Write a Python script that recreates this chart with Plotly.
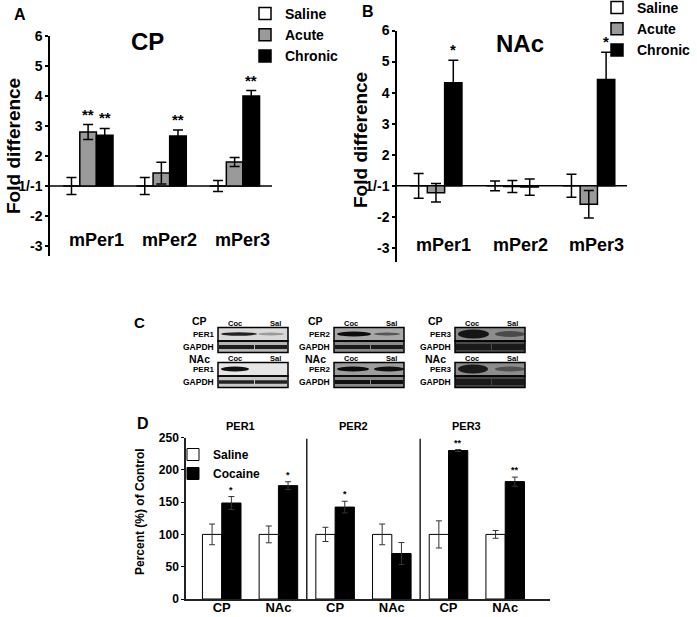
import plotly.graph_objects as go

# ---------------- data ----------------
genes = ["mPer1", "mPer2", "mPer3"]
treatments = ["Saline", "Acute", "Chronic"]
fold_tick_values = [6, 5, 4, 3, 2, 1, -2, -3]

cp_saline = [1.0, 1.0, 1.0]
cp_saline_err = [0.28, 0.28, 0.18]
cp_acute = [2.8, 1.43, 1.8]
cp_acute_err = [0.25, 0.36, 0.15]
cp_chronic = [2.69, 2.67, 4.0]
cp_chronic_err = [0.23, 0.2, 0.18]
cp_acute_sig = ["**", "", ""]
cp_chronic_sig = ["**", "**", "**"]

nac_saline = [1.0, 1.0, 1.0]
nac_saline_err = [0.4, 0.16, 0.37]
nac_acute = [-1.22, -1.02, -1.59]
nac_acute_err = [0.3, 0.19, 0.44]
nac_chronic = [4.32, -1.04, 4.42]
nac_chronic_err = [0.72, 0.26, 0.88]
nac_chronic_sig = ["*", "", "*"]

proteins = ["PER1", "PER2", "PER3"]
regions = ["CP", "NAc"]
conditions = ["Saline", "Cocaine"]
d_saline = [100, 100, 100, 100, 100, 100]
d_saline_err = [16, 13, 11, 16, 21, 6]
d_cocaine = [148.6, 175.5, 142.3, 70.4, 229.8, 181.7]
d_cocaine_err = [10, 6, 9, 17, 1.5, 7]
d_cocaine_sig = ["*", "*", "*", "", "**", "**"]

# ---------------- helpers ----------------
W, H = 697, 617
FONT = "Liberation Sans, Arial, sans-serif"


def px(x):
    return x / W


def py(y):
    return 1 - y / H


def fold_axis(v):
    return v - 1 if v >= 1 else v + 1


annotations = []
shapes = []


def text(x, y, s, size, bold=True, xanchor="center", angle=0, color="black"):
    annotations.append(dict(
        x=px(x), y=py(y), xref="paper", yref="paper", text=s, showarrow=False,
        xanchor=xanchor, yanchor="middle", textangle=angle,
        font=dict(family=FONT, size=size, color=color, weight="bold" if bold else "normal")))


fig = go.Figure()

BARGAP = 0.32

# ---------------- panels A and B ----------------
fold_colors = ["white", "#9a9a9a", "black"]
panelAB = [
    ("x", "y", "legend", [cp_saline, cp_acute, cp_chronic],
     [cp_saline_err, cp_acute_err, cp_chronic_err], [None, cp_acute_sig, cp_chronic_sig], 5),
    ("x2", "y2", "legend2", [nac_saline, nac_acute, nac_chronic],
     [nac_saline_err, nac_acute_err, nac_chronic_err], [None, None, nac_chronic_sig], 5),
]
for xa, ya, leg, series, errs, sigs, cap in panelAB:
    bw = (1 - BARGAP) / 3
    # baseline at fold 1/-1
    shapes.append(dict(type="line", xref=xa + " domain", yref=ya, x0=0, x1=1, y0=0, y1=0,
                       line=dict(color="black", width=1.5), layer="below"))
    for i, name in enumerate(treatments):
        vals = [fold_axis(v) for v in series[i]]
        fig.add_trace(go.Bar(
            x=genes, y=vals, name=name, xaxis=xa, yaxis=ya, legend=leg,
            marker=dict(color=fold_colors[i], line=dict(color="black", width=1.5)),
            error_y=dict(type="data", array=errs[i], visible=True, color="black",
                         thickness=1.5, width=cap),
        ))
        if sigs[i]:
            for j, s in enumerate(sigs[i]):
                if s:
                    annotations.append(dict(
                        x=j + (i - 1) * bw, y=vals[j] + errs[i][j], xref=xa, yref=ya,
                        text=s, showarrow=False, yanchor="bottom", yshift=0,
                        font=dict(family=FONT, size=15, weight="bold")))
    for j, g in enumerate(genes):
        annotations.append(dict(
            x=j, y=-1.8 if xa == "x" else -1.9, xref=xa, yref=ya, text=g, showarrow=False,
            xshift=8, yanchor="middle", font=dict(family=FONT, size=18, weight="bold")))

# ---------------- panel D ----------------
dx = list(range(len(proteins) * len(regions)))
dticks = regions * len(proteins)
fig.add_trace(go.Bar(
    x=dx, y=d_saline, name=conditions[0], xaxis="x3", yaxis="y3", legend="legend3",
    marker=dict(color="white", line=dict(color="black", width=1)),
    error_y=dict(type="data", array=d_saline_err, color="#333", thickness=1, width=3)))
fig.add_trace(go.Bar(
    x=dx, y=d_cocaine, name=conditions[1], xaxis="x3", yaxis="y3", legend="legend3",
    marker=dict(color="black", line=dict(color="black", width=1)),
    error_y=dict(type="data", array=d_cocaine_err, color="#333", thickness=1, width=3)))
for j, s in enumerate(d_cocaine_sig):
    if s:
        annotations.append(dict(
            x=j + (1 - BARGAP) / 4, y=d_cocaine[j] + d_cocaine_err[j], xref="x3", yref="y3",
            text=s, showarrow=False, yanchor="bottom", yshift=0,
            font=dict(family=FONT, size=9, weight="bold")))
for k, p in enumerate(proteins):
    annotations.append(dict(
        x=2 * k + 0.5, y=1.07, xref="x3", yref="y3 domain", text=p, showarrow=False,
        xshift=-10, yanchor="middle", font=dict(family=FONT, size=11, weight="bold")))
    if k > 0:
        shapes.append(dict(type="line", xref="x3", yref="y3", x0=2 * k - 0.5, x1=2 * k - 0.5,
                           y0=0, y1=248, line=dict(color="#222", width=1.5)))

# ---------------- panel C (western blot images) ----------------
blot_looks = {
    ("CP", 0): dict(bg="#d9d9d9", coc=("#222", 3.5, 36), sal=("#9a9a9a", 3, 26), gbg="#b5b5b5", gb=("#1e1e1e", 4)),
    ("NAc", 0): dict(bg="#e6e6e6", coc=("#111", 5, 28), sal=None, gbg="#c8c8c8", gb=("#222", 3.5)),
    ("CP", 1): dict(bg="#a8a8a8", coc=("#0d0d0d", 5, 34), sal=("#555", 3, 26), gbg="#8a8a8a", gb=("#1a1a1a", 4)),
    ("NAc", 1): dict(bg="#9d9d9d", coc=("#0d0d0d", 5, 32), sal=("#111", 5, 30), gbg="#8a8a8a", gb=("#111", 4)),
    ("CP", 2): dict(bg="#8c8c8c", coc=("#151515", 9, 31), sal=("#4a4a4a", 6, 30), gbg="#4a4a4a", gb=("#1a1a1a", 6)),
    ("NAc", 2): dict(bg="#8c8c8c", coc=("#1a1a1a", 9, 30), sal=("#505050", 5, 30), gbg="#454545", gb=("#1a1a1a", 6)),
}


def rect(x0, y0, x1, y1, fill, line="black", lw=0, kind="rect"):
    shapes.append(dict(type=kind, xref="paper", yref="paper", x0=px(x0), x1=px(x1),
                       y0=py(y1), y1=py(y0), fillcolor=fill,
                       line=dict(width=lw, color=line), layer="above"))


blot_left = [218, 334, 455]
blot_top = {"CP": 327.5, "NAc": 362.5}
region_label_dy = {"CP": -7, "NAc": -4}
BW = 70
for r in regions:
    T = blot_top[r]
    for c, L in enumerate(blot_left):
        lk = blot_looks[(r, c)]
        rect(L, T, L + BW, T + 13.5, lk["bg"])
        col, h, w = lk["coc"]
        rect(L + 3, T + 6.5 - h / 2, L + 3 + w, T + 6.5 + h / 2, col, kind="circle")
        if lk["sal"]:
            col, h, w = lk["sal"]
            rect(L + 40, T + 6.5 - h / 2, L + 40 + w, T + 6.5 + h / 2, col, kind="circle")
        rect(L, T + 13.5, L + BW, T + 25, lk["gbg"])
        col, h = lk["gb"]
        rect(L + 1, T + 19.5 - h / 2, L + 36, T + 19.5 + h / 2, col)
        rect(L + 37, T + 19.5 - h / 2, L + BW - 1, T + 19.5 + h / 2, col)
        rect(L, T, L + BW, T + 13.5, "rgba(0,0,0,0)", lw=1.5)
        rect(L, T + 13.5, L + BW, T + 25, "rgba(0,0,0,0)", lw=1.5)
        text(L - 19, T + region_label_dy[r], r, 10.5)
        text(L - 2, T + 7, proteins[c], 8, xanchor="right")
        text(L - 2, T + 19.5, "GAPDH", 8.5, xanchor="right")
        text(L + 17, T - 4.5, "Coc", 7.5)
        text(L + 57, T - 4.5, "Sal", 7.5)

# ---------------- text ----------------
text(20, 14, "A", 16)
text(147, 42, "CP", 24)
text(13, 146, "Fold difference", 19, angle=-90)
text(368, 12, "B", 16)
text(520, 43, "NAc", 24)
text(360, 140, "Fold difference", 19, angle=-90)
text(139, 322, "C", 15)
text(143, 423, "D", 16)
text(140, 512, "Percent (%) of Control", 12, angle=-90)

fold_axis_common = dict(
    tickvals=[fold_axis(v) for v in fold_tick_values],
    ticktext=["1/-1" if v == 1 else str(v) for v in fold_tick_values],
    ticks="outside", ticklen=3, tickwidth=1.5, tickcolor="black",
    showline=True, linewidth=1.5, linecolor="black",
    zeroline=False,
    showgrid=False, tickfont=dict(family=FONT, size=14, weight="bold", color="black"),
)
hidden_x = dict(showticklabels=False, ticks="", showline=False, showgrid=False, zeroline=False,
                type="category")

legend_common = dict(bgcolor="rgba(0,0,0,0)", borderwidth=0, xanchor="left", yanchor="top",
                     traceorder="normal", itemclick=False)

fig.update_layout(
    width=W, height=H, autosize=False,
    margin=dict(l=0, r=0, t=0, b=0, autoexpand=False),
    paper_bgcolor="white", plot_bgcolor="white",
    barmode="group", bargap=BARGAP, bargroupgap=0,
    font=dict(family=FONT, color="black"),
    xaxis=dict(domain=[px(50), px(272)], range=[-0.52, 2.51], anchor="y", **hidden_x),
    yaxis=dict(domain=[py(256), py(36)], range=[-2.333, 5], anchor="x", **fold_axis_common),
    xaxis2=dict(domain=[px(397), px(627)], range=[-0.51, 2.5], anchor="y2", **hidden_x),
    yaxis2=dict(domain=[py(262), py(30.5)], range=[-2.45, 5], anchor="x2", **fold_axis_common),
    xaxis3=dict(domain=[px(186), px(550)], range=[-0.63, 5.79], anchor="y3",
                tickvals=dx, ticktext=dticks, ticks="", showline=True, linewidth=1.5,
                linecolor="#222", showgrid=False, zeroline=False, ticklabelstandoff=-4,
                tickfont=dict(family=FONT, size=13, weight="bold", color="black")),
    yaxis3=dict(domain=[py(599), py(437.5)], range=[0, 250], dtick=50, anchor="x3",
                ticks="outside", ticklen=3, tickwidth=1, tickcolor="black",
                showline=True, linewidth=1.5, linecolor="#222", showgrid=False, zeroline=False,
                tickfont=dict(family=FONT, size=12, weight="bold", color="black")),
    legend=dict(x=px(245), y=py(-2), font=dict(family=FONT, size=14, weight="bold"), **legend_common),
    legend2=dict(x=px(597), y=py(-8), font=dict(family=FONT, size=14, weight="bold"), **legend_common),
    legend3=dict(x=px(173), y=py(440), font=dict(family=FONT, size=12, weight="bold"), **legend_common),
    annotations=annotations,
    shapes=shapes,
)

fig.write_html(
    "out.html",
    config={"displayModeBar": False},
    post_script=(
        "document.documentElement.style.margin='0';"
        "document.body.style.margin='0';document.body.style.padding='0';"
        "document.documentElement.style.overflow='hidden';"
        "document.body.style.overflow='hidden';"
    ),
)
